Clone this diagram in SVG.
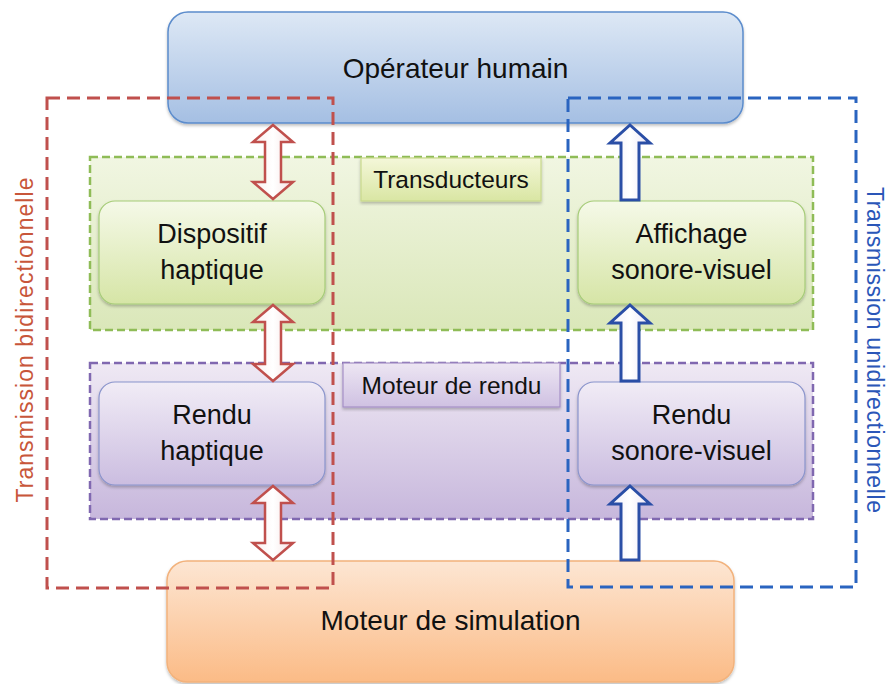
<svg xmlns="http://www.w3.org/2000/svg" width="888" height="684" viewBox="0 0 888 684">
<defs>
<linearGradient id="gBlue" x1="0" y1="0" x2="0" y2="1"><stop offset="0" stop-color="#dde8f5"/><stop offset="1" stop-color="#a5bfe3"/></linearGradient>
<linearGradient id="gOrange" x1="0" y1="0" x2="0" y2="1"><stop offset="0" stop-color="#fde6d3"/><stop offset="1" stop-color="#fbbb86"/></linearGradient>
<linearGradient id="gGreenReg" x1="0" y1="0" x2="0" y2="1"><stop offset="0" stop-color="#f1f6e2"/><stop offset="1" stop-color="#dae7b9"/></linearGradient>
<linearGradient id="gPurpReg" x1="0" y1="0" x2="0" y2="1"><stop offset="0" stop-color="#efe9f4"/><stop offset="1" stop-color="#c7b7dc"/></linearGradient>
<linearGradient id="gGreenNode" x1="0" y1="0" x2="0" y2="1"><stop offset="0" stop-color="#f5f9e8"/><stop offset="1" stop-color="#d6e5a6"/></linearGradient>
<linearGradient id="gPurpNode" x1="0" y1="0" x2="0" y2="1"><stop offset="0" stop-color="#f1ecf6"/><stop offset="1" stop-color="#cbbde0"/></linearGradient>
<linearGradient id="gGreenLbl" x1="0" y1="0" x2="0" y2="1"><stop offset="0" stop-color="#f4f7d9"/><stop offset="1" stop-color="#d9e6a3"/></linearGradient>
<linearGradient id="gPurpLbl" x1="0" y1="0" x2="0" y2="1"><stop offset="0" stop-color="#ede6f3"/><stop offset="1" stop-color="#cfc1e2"/></linearGradient>
<linearGradient id="gArrowR" x1="0" y1="0" x2="1" y2="0"><stop offset="0" stop-color="#fbeeee"/><stop offset="0.5" stop-color="#ffffff"/><stop offset="1" stop-color="#f6e4e4"/></linearGradient>
<linearGradient id="gArrowB" x1="0" y1="0" x2="1" y2="0"><stop offset="0" stop-color="#f1eefa"/><stop offset="0.5" stop-color="#ffffff"/><stop offset="1" stop-color="#ebe6f6"/></linearGradient>
<filter id="sh" x="-5%" y="-5%" width="110%" height="115%"><feDropShadow dx="0" dy="2" stdDeviation="1.5" flood-color="#000" flood-opacity="0.25"/></filter>
</defs>
<style>
text{font-family:"Liberation Sans",Arial,sans-serif;fill:#111;}
.big{font-size:28px;text-anchor:middle;}
.node{font-size:27px;text-anchor:middle;}
.lbl{font-size:24.5px;text-anchor:middle;}
.vert{font-size:23px;text-anchor:middle;}
.arrR{fill:url(#gArrowR);stroke:#c0504d;stroke-width:2.5;stroke-linejoin:miter;}
.arrB{fill:url(#gArrowB);stroke:#2a4ea6;stroke-width:3;stroke-linejoin:miter;}
.trans{fill:none;stroke-width:3;stroke-dasharray:13 7;}
</style>

<g id="operateur">
<rect x="168" y="12" width="575" height="111" rx="20" fill="url(#gBlue)" stroke="#5b8ccc" stroke-width="1.5" filter="url(#sh)"/>
<text class="big" x="455.5" y="78">Opérateur humain</text>
</g>

<g id="simulation">
<rect x="167" y="561" width="567" height="121" rx="20" fill="url(#gOrange)" stroke="#f2b27c" stroke-width="1.5" filter="url(#sh)"/>
<text class="big" x="450.5" y="630">Moteur de simulation</text>
</g>

<g id="transducteurs">
<rect x="90" y="157" width="723" height="173" fill="url(#gGreenReg)" stroke="#8fbc57" stroke-width="2.5" stroke-dasharray="8 4"/>
<rect x="361" y="158" width="180" height="43" fill="url(#gGreenLbl)" stroke="#c9d98c" stroke-width="1.2" filter="url(#sh)"/>
<text class="lbl" x="451" y="188">Transducteurs</text>
</g>

<g id="moteur-rendu">
<rect x="90" y="363" width="723" height="156" fill="url(#gPurpReg)" stroke="#8068b0" stroke-width="2.5" stroke-dasharray="8 4"/>
<rect x="343" y="363" width="217" height="44" fill="url(#gPurpLbl)" stroke="#a58fc6" stroke-width="1.2" filter="url(#sh)"/>
<text class="lbl" x="451.5" y="394">Moteur de rendu</text>
</g>

<g id="dispositif-haptique">
<rect x="99" y="201" width="226" height="103" rx="16" fill="url(#gGreenNode)" stroke="#a6cc78" stroke-width="1.2" filter="url(#sh)"/>
<text class="node" x="212" y="243">Dispositif</text>
<text class="node" x="212" y="279">haptique</text>
</g>

<g id="affichage-sonore-visuel">
<rect x="578" y="201" width="227" height="103" rx="16" fill="url(#gGreenNode)" stroke="#a6cc78" stroke-width="1.2" filter="url(#sh)"/>
<text class="node" x="691.5" y="243">Affichage</text>
<text class="node" x="691.5" y="279">sonore-visuel</text>
</g>

<g id="rendu-haptique">
<rect x="99" y="382" width="226" height="103" rx="16" fill="url(#gPurpNode)" stroke="#8a94cc" stroke-width="1.2" filter="url(#sh)"/>
<text class="node" x="212" y="424">Rendu</text>
<text class="node" x="212" y="460">haptique</text>
</g>

<g id="rendu-sonore-visuel">
<rect x="578" y="382" width="227" height="103" rx="16" fill="url(#gPurpNode)" stroke="#8a94cc" stroke-width="1.2" filter="url(#sh)"/>
<text class="node" x="691.5" y="424">Rendu</text>
<text class="node" x="691.5" y="460">sonore-visuel</text>
</g>

<g id="connectors">
<path class="arrR" d="M273,125 L293,142 L281,142 L281,182 L293,182 L273,199 L253,182 L265,182 L265,142 L253,142 Z"/>
<path class="arrR" d="M273,305 L293,322 L281,322 L281,364 L293,364 L273,381 L253,364 L265,364 L265,322 L253,322 Z"/>
<path class="arrR" d="M273,486 L293,503 L281,503 L281,543 L293,543 L273,560 L253,543 L265,543 L265,503 L253,503 Z"/>
<path class="arrB" d="M630,125 L650,143 L639,143 L639,200 L621,200 L621,143 L610,143 Z"/>
<path class="arrB" d="M630,305 L650,323 L639,323 L639,381 L621,381 L621,323 L610,323 Z"/>
<path class="arrB" d="M630,486 L650,504 L639,504 L639,560 L621,560 L621,504 L610,504 Z"/>
</g>

<g id="transmission-bidirectionnelle">
<rect class="trans" x="47" y="98" width="286" height="490" stroke="#c0504d"/>
<text class="vert" transform="translate(33,340) rotate(-90)" textLength="325" lengthAdjust="spacing" style="fill:#c8563a">Transmission bidirectionnelle</text>
</g>

<g id="transmission-unidirectionnelle">
<rect class="trans" x="568" y="98" width="288" height="489" stroke="#2a64c0"/>
<text class="vert" transform="translate(867,350) rotate(90)" textLength="326" lengthAdjust="spacing" style="fill:#2a56b8">Transmission unidirectionnelle</text>
</g>
</svg>
